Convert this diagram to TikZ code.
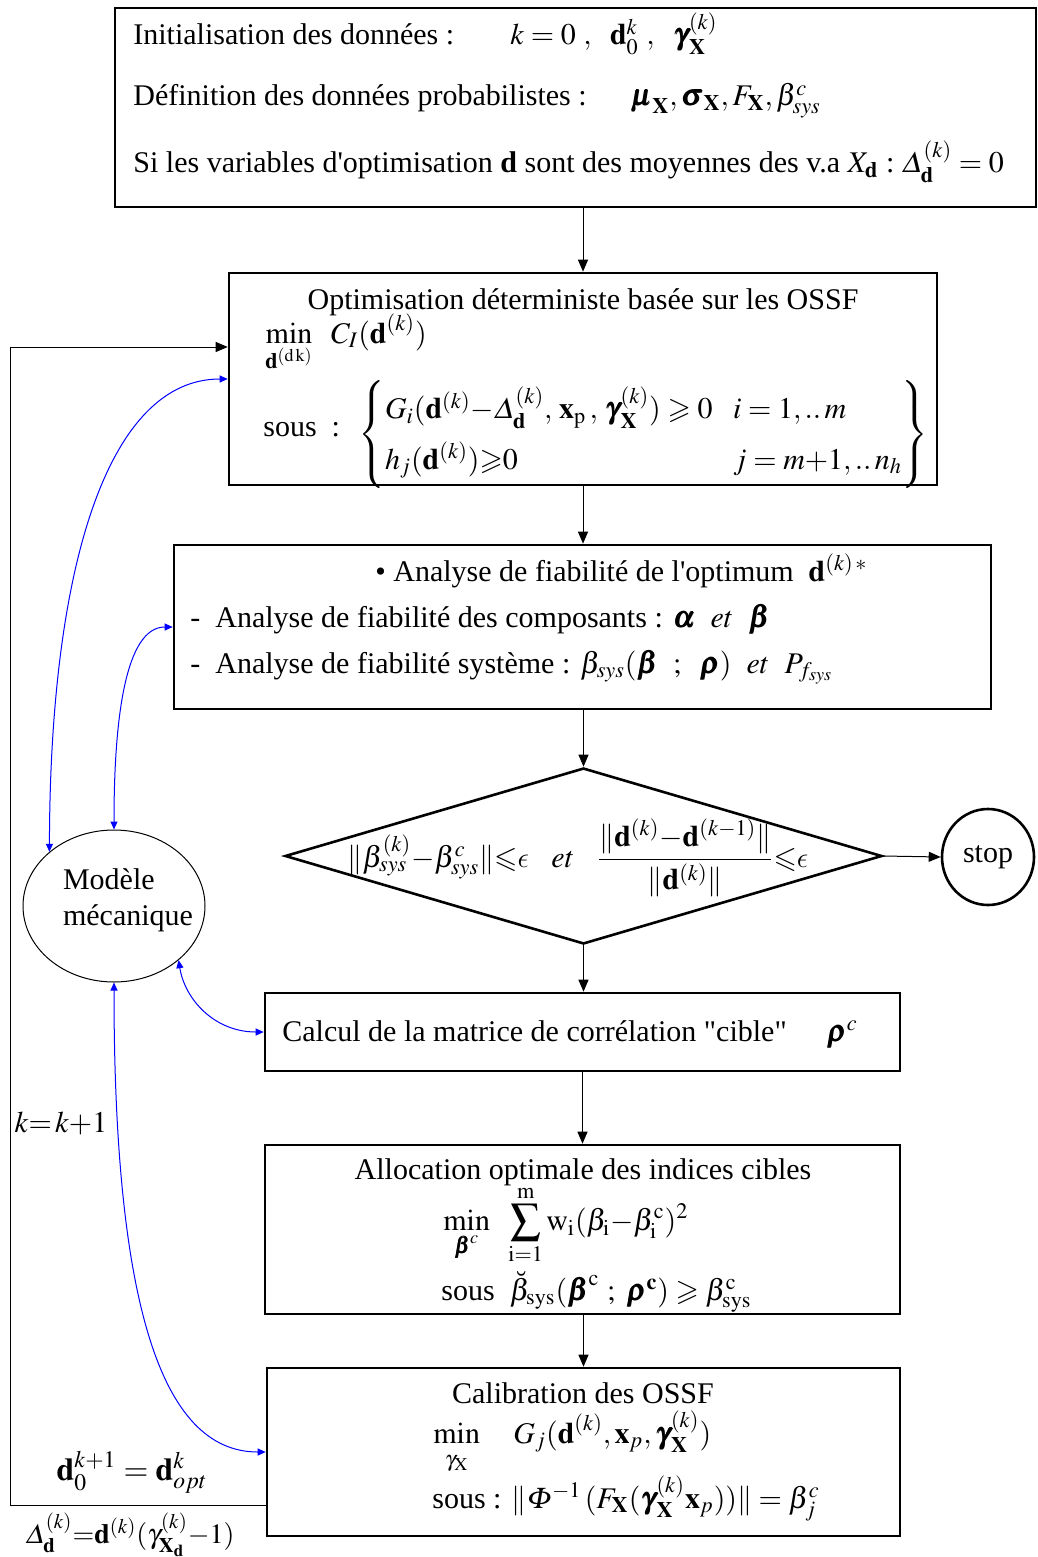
\documentclass[tikz,border=0pt]{standalone}
\usepackage{amsmath}
\usepackage{amssymb}
\usepackage{mathptmx}
\usepackage{bm}
\usepackage[no-math]{fontspec}
\setmainfont{Liberation Serif}[Ligatures=TeXOff]
\DeclareSymbolFont{cmlettres}{OML}{cmm}{m}{it}
\DeclareMathSymbol{\lunate}{\mathord}{cmlettres}{"0F}
\usetikzlibrary{arrows.meta,shapes.geometric}

\begin{document}
\begin{tikzpicture}[x=0.5pt,y=-0.5pt,
    every node/.style={font=\fontsize{15}{18}\selectfont},
    boite/.style={draw,line width=1.3pt,inner sep=0pt},
    txt/.style={anchor=base west,inner sep=0pt},
    fleche/.style={-{Triangle[length=6pt,width=5pt]},line width=0.5pt},
    lien/.style={{Triangle[length=4pt,width=3.5pt]}-{Triangle[length=4pt,width=3.5pt]},blue,line width=0.5pt}]
    \useasboundingbox (0,0) rectangle (1038,1557);
    % boites
    \node[boite,minimum width=460.5pt,minimum height=99.5pt] (init) at (575.5,107.5) {};
    \node[boite,minimum width=354pt,minimum height=106pt] (opt) at (583,379) {};
    \node[boite,minimum width=408.5pt,minimum height=82pt] (ana) at (582.5,627) {};
    \node[boite,diamond,minimum width=298.5pt,minimum height=88pt] (test) at (583.5,856) {};
    \node[boite,ellipse,minimum width=46pt,minimum height=48pt] (stop) at (988,857) {stop};
    \node[boite,minimum width=317.5pt,minimum height=39pt] (calc) at (582.5,1032) {};
    \node[boite,minimum width=317.5pt,minimum height=84.5pt] (alloc) at (582.5,1229.5) {};
    \node[boite,minimum width=316.5pt,minimum height=84pt] (calib) at (583.5,1452) {};
    \node[draw,ellipse,line width=0.5pt,minimum width=91pt,minimum height=76pt] (model) at (114,906) {};
    \node[align=left,inner sep=0pt] (modeltxt) at (128,900) {Modèle\\mécanique};

    % donnees initiales
    \node[txt] (ini1) at (133,45) {Initialisation des données :};
    \node[txt] (ini1m) at (510,45) {$k=0\ ,\ \ \mathbf{d}_0^{k}\ ,\ \ \bm{\gamma}_{\mathbf{X}}^{(k)}$};
    \node[txt] (ini2) at (133,106) {Définition des données probabilistes :};
    \node[txt] (ini2m) at (630,106) {$\bm{\mu}_{\mathbf{X}},\bm{\sigma}_{\mathbf{X}},F_{\mathbf{X}},\beta^{c}_{sys}$};
    \node[txt] (ini3) at (133,173) {Si les variables d'optimisation \textbf{d} sont des moyennes des v.a\ $X_{\mathbf{d}}$ :\ $\varDelta_{\mathbf{d}}^{(k)}=0$};

    % optimisation
    \node[txt,anchor=base] (opt1) at (583,309) {Optimisation déterministe basée sur les OSSF};
    \node[txt] (opt2) at (265,343) {$\displaystyle\min_{\rule{0pt}{9pt}\mathbf{d}^{(\mathrm{d\,k})}}\ \ C_I(\mathbf{d}^{(k)})$};
    \node[txt] (opt3) at (263,436) {sous\ \ :};
    \node[anchor=west,inner sep=0pt] (opt4) at (358,434) {$\renewcommand{\arraystretch}{1.39}\left\{\begin{array}{@{}l@{}l@{}}
        \makebox[174pt][l]{$G_i(\mathbf{d}^{(k)}{-}\varDelta_{\mathbf{d}}^{(k)},\,\mathbf{x}_{\mathrm{p}}\,,\,\bm{\gamma}_{\mathbf{X}}^{(k)})\geqslant 0$} & \makebox[83pt][l]{$i=1,..\,m$}\\
        h_j(\mathbf{d}^{(k)}){\geqslant}0 & j=m{+}1,..\,n_h
    \end{array}\right\}$};

    % analyse de fiabilite
    \node[txt] (ana1) at (375,581) {\textbullet\ Analyse de fiabilité de l'optimum\ \ $\mathbf{d}^{(k)\,*}$};
    \node[txt] (ana2) at (190,627) {-\ \ Analyse de fiabilité des composants : $\bm{\alpha}$\ \ $et$\ \ $\bm{\beta}$};
    \node[txt] (ana3) at (190,673) {-\ \ Analyse de fiabilité système : $\beta_{sys}(\bm{\beta}\ \ ;\ \ \bm{\rho})\ \ et\ \ P_{f_{sys}}$};

    % test de convergence
    \node[inner sep=0pt] (testtxt) at (578,858) {$\|\beta_{sys}^{(k)}{-}\beta_{sys}^{c}\|{\leqslant}\lunate\ \ \ et\ \ \ \dfrac{\|\mathbf{d}^{(k)}{-}\mathbf{d}^{(k{-}1)}\|}{\|\mathbf{d}^{(k)}\|}{\leqslant}\lunate$};

    % correlation cible
    \node[txt] (calc1) at (282,1041) {Calcul de la matrice de corrélation "cible"\hspace{20pt}$\bm{\rho}^{c}$};

    % allocation
    \node[txt,anchor=base] (alloc1) at (583,1179) {Allocation optimale des indices cibles};
    \node[anchor=west,inner sep=0pt] (alloc2) at (443,1225) {$\displaystyle\min_{\bm{\beta}^{c}}\ \ \sum_{\mathrm{i}=1}^{\mathrm{m}}\mathrm{w}_{\mathrm{i}}(\beta_{\mathrm{i}}{-}\beta_{\mathrm{i}}^{\mathrm{c}})^{2}$};
    \node[txt] (alloc3) at (441,1300) {sous\ \ $\breve{\beta}_{\mathrm{sys}}(\bm{\beta}^{\mathrm{c}}\ ;\ \bm{\rho}^{\mathbf{c}})\geqslant\beta^{\mathrm{c}}_{\mathrm{sys}}$};

    % calibration
    \node[txt,anchor=base] (calib1) at (583,1403) {Calibration des OSSF};
    \node[txt] (calib2) at (433,1443) {$\displaystyle\min_{\rule{0pt}{9pt}\gamma_{\mathrm{X}}}\quad G_j(\mathbf{d}^{(k)},\mathbf{x}_p,\bm{\gamma}_{\mathbf{X}}^{(k)})$};
    \node[txt] (calib3) at (432,1508) {sous : $\|\varPhi^{-1}\,(F_{\mathbf{X}}(\bm{\gamma}_{\mathbf{X}}^{(k)}\mathbf{x}_p))\|=\beta_j^{c}$};

    % boucle
    \node[inner sep=0pt] (iter) at (61,1123) {$k{=}\,k{+}1$};
    \node[font=\fontsize{16}{19}\selectfont,inner sep=0pt] (maj) at (132,1472) {$\mathbf{d}_0^{k+1}=\mathbf{d}_{opt}^{k}$};
    \node[font=\fontsize{14}{17}\selectfont,inner sep=0pt] (delta) at (130,1535) {$\varDelta_{\mathbf{d}}^{(k)}{=}\mathbf{d}^{(k)}(\gamma_{\mathbf{X}_{\mathbf{d}}}^{(k)}{-}1)$};
    \coordinate (retour) at (10,1505);
    \coordinate (coin) at (10,347);

    % fleches
    \draw[fleche] (init.south -| opt.north) -- (opt.north);
    \draw[fleche] (opt.south) -- (opt.south |- ana.north);
    \draw[fleche] (ana.south -| test.north) -- (test.north);
    \draw[fleche] (test.south) -- (test.south |- calc.north);
    \draw[fleche] (test.east) -- (stop.west);
    \draw[fleche] (calc.south) -- (alloc.north);
    \draw[fleche] (alloc.south -| calib.north) -- (calib.north);
    \draw[fleche] (retour -| calib.west) -- (retour) -- (coin) -- (coin -| opt.west);

    % liens avec le modele
    \draw[lien] (opt.west) .. controls (110,379) and (50,560) .. (model.140);
    \draw[lien] (ana.west) .. controls (125,627) and (114,720) .. (model.north);
    \draw[lien] (calc.west) .. controls (215,1032) and (185,1000) .. (model.-40);
    \draw[lien] (calib.west) .. controls (160,1452) and (114,1300) .. (model.south);
\end{tikzpicture}
\end{document}
